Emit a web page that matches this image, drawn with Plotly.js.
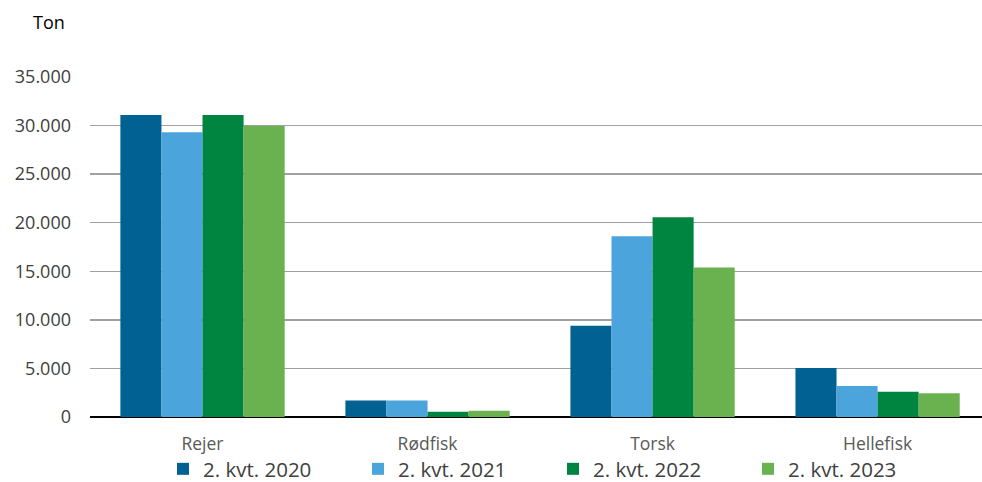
<!DOCTYPE html>
<html>
<head>
<meta charset="utf-8">
<script src="https://cdn.plot.ly/plotly-3.0.1.min.js"></script>
<style>html,body{margin:0;padding:0;background:#fff;}#chart{width:982px;height:482px;}</style>
</head>
<body>
<div id="chart"></div>
<script>
const categories = ["Rejer", "Rødfisk", "Torsk", "Hellefisk"];
const seriesNames = ["2. kvt. 2020", "2. kvt. 2021", "2. kvt. 2022", "2. kvt. 2023"];
const v2020 = [31100, 1700, 9400, 5050];
const v2021 = [29300, 1700, 18600, 3200];
const v2022 = [31100, 550, 20550, 2600];
const v2023 = [29950, 650, 15400, 2450];
const yTicks = [0, 5000, 10000, 15000, 20000, 25000, 30000, 35000];
const yLabel = "Ton";

const colors = ["#006192", "#4BA5DC", "#008540", "#6AB150"];
const allVals = [v2020, v2021, v2022, v2023];

const traces = allVals.map((vals, i) => ({
  type: "bar",
  name: seriesNames[i],
  x: categories,
  y: vals,
  marker: { color: colors[i], line: { width: 0 } },
  hoverinfo: "x+y+name"
}));

const layout = {
  width: 982,
  height: 482,
  margin: { l: 90, r: 0, t: 77, b: 65, autoexpand: false },
  paper_bgcolor: "#fff",
  plot_bgcolor: "#fff",
  barmode: "group",
  bargap: 0.27,
  bargroupgap: 0,
  separators: ",.",
  font: { family: "Open Sans, Noto Sans, sans-serif", color: "#404040" },
  xaxis: {
    type: "category",
    range: [-0.5, 3.464],
    showgrid: false,
    zeroline: false,
    showline: false,
    ticks: "",
    ticklabelstandoff: 14,
    tickfont: { size: 17.5, color: "#595959" }
  },
  yaxis: {
    range: [0, 35000],
    tickvals: yTicks,
    tickformat: ",d",
    showgrid: true,
    gridcolor: "#A0A0A0",
    gridwidth: 1.5,
    zeroline: true,
    zerolinecolor: "#000000",
    zerolinewidth: 2,
    showline: false,
    ticks: "",
    ticklabelstandoff: 18,
    tickfont: { size: 18, color: "#404040" }
  },
  legend: {
    orientation: "h",
    x: (163 - 90) / 892,
    xanchor: "left",
    y: -(469 - 417) / 340,
    yanchor: "middle",
    bgcolor: "rgba(0,0,0,0)",
    font: { size: 20.5, color: "#404040" },
    itemwidth: 30,
    entrywidth: 150,
    entrywidthmode: "pixels",
    tracegroupgap: 0
  },
  annotations: [{
    text: yLabel,
    xref: "paper", yref: "paper",
    x: (49 - 90) / 892, y: (417 - 22) / 340,
    xanchor: "center", yanchor: "middle",
    showarrow: false,
    font: { size: 18, color: "#000000" }
  }],
  showlegend: true
};

Plotly.newPlot("chart", traces, layout, { displayModeBar: false, staticPlot: true });
</script>
</body>
</html>
